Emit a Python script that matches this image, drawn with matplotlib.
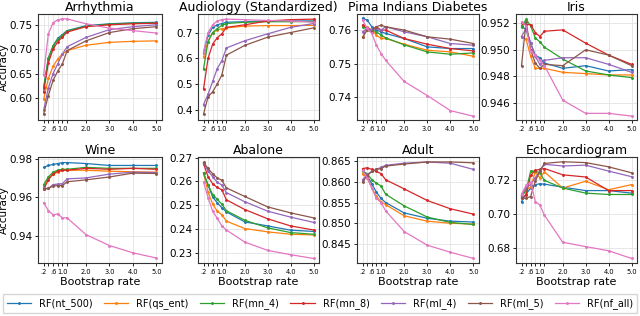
import matplotlib
matplotlib.use("Agg")
import matplotlib.pyplot as plt
import numpy as np

rates = [0.2, 0.4, 0.6, 0.8, 1.0, 1.2, 2.0, 3.0, 4.0, 5.0]
tick_labels = ['.2', '', '.6', '', '1.0', '', '2.0', '3.0', '4.0', '5.0']
models = ['RF(nt_500)', 'RF(qs_ent)', 'RF(mn_4)', 'RF(mn_8)', 'RF(ml_4)', 'RF(ml_5)', 'RF(nf_all)']
colors = ['#1f77b4', '#ff7f0e', '#2ca02c', '#d62728', '#9467bd', '#8c564b', '#e377c2']

arrhythmia = [
    [0.620, 0.680, 0.707, 0.722, 0.730, 0.738, 0.748, 0.752, 0.754, 0.755],
    [0.597, 0.640, 0.665, 0.680, 0.690, 0.697, 0.708, 0.714, 0.716, 0.717],
    [0.622, 0.682, 0.706, 0.720, 0.728, 0.737, 0.747, 0.751, 0.753, 0.754],
    [0.612, 0.672, 0.700, 0.715, 0.725, 0.735, 0.746, 0.750, 0.752, 0.753],
    [0.575, 0.620, 0.650, 0.670, 0.690, 0.705, 0.724, 0.740, 0.746, 0.750],
    [0.567, 0.605, 0.636, 0.655, 0.670, 0.697, 0.717, 0.734, 0.742, 0.746],
    [0.648, 0.731, 0.754, 0.760, 0.762, 0.762, 0.752, 0.743, 0.738, 0.733],
]
audiology = [
    [0.620, 0.690, 0.720, 0.730, 0.735, 0.740, 0.742, 0.745, 0.745, 0.745],
    [0.605, 0.665, 0.700, 0.710, 0.715, 0.718, 0.725, 0.727, 0.727, 0.728],
    [0.558, 0.665, 0.700, 0.715, 0.728, 0.735, 0.740, 0.742, 0.742, 0.743],
    [0.480, 0.600, 0.655, 0.680, 0.695, 0.720, 0.730, 0.745, 0.750, 0.752],
    [0.420, 0.460, 0.510, 0.560, 0.590, 0.640, 0.668, 0.695, 0.720, 0.735],
    [0.383, 0.450, 0.470, 0.500, 0.535, 0.612, 0.650, 0.682, 0.700, 0.718],
    [0.625, 0.700, 0.730, 0.745, 0.750, 0.752, 0.750, 0.747, 0.745, 0.740],
]
pima = [
    [0.7635, 0.7630, 0.7610, 0.7600, 0.7595, 0.7590, 0.7575, 0.7550, 0.7545, 0.7545],
    [0.7578, 0.7610, 0.7600, 0.7585, 0.7575, 0.7575, 0.7558, 0.7540, 0.7535, 0.7522],
    [0.7610, 0.7605, 0.7600, 0.7595, 0.7585, 0.7577, 0.7556, 0.7535, 0.7528, 0.7532],
    [0.7615, 0.7605, 0.7600, 0.7610, 0.7600, 0.7600, 0.7575, 0.7558, 0.7545, 0.7538],
    [0.7595, 0.7605, 0.7600, 0.7605, 0.7600, 0.7610, 0.7595, 0.7580, 0.7560, 0.7555],
    [0.7578, 0.7600, 0.7595, 0.7610, 0.7615, 0.7610, 0.7600, 0.7580, 0.7573, 0.7560],
    [0.7630, 0.7605, 0.7590, 0.7555, 0.7530, 0.7510, 0.7447, 0.7405, 0.7360, 0.7343],
]
iris = [
    [0.9518, 0.9515, 0.9505, 0.9496, 0.9494, 0.9490, 0.9486, 0.9488, 0.9484, 0.9485],
    [0.9510, 0.9508, 0.9495, 0.9486, 0.9486, 0.9486, 0.9483, 0.9482, 0.9481, 0.9481],
    [0.9517, 0.9523, 0.9518, 0.9509, 0.9506, 0.9502, 0.9493, 0.9484, 0.9481, 0.9479],
    [0.9520, 0.9519, 0.9519, 0.9513, 0.9510, 0.9514, 0.9515, 0.9505, 0.9496, 0.9489],
    [0.9510, 0.9516, 0.9505, 0.9495, 0.9489, 0.9492, 0.9494, 0.9494, 0.9489, 0.9483],
    [0.9488, 0.9521, 0.9500, 0.9490, 0.9486, 0.9489, 0.9488, 0.9500, 0.9496, 0.9488],
    [0.9521, 0.9518, 0.9499, 0.9496, 0.9492, 0.9488, 0.9462, 0.9452, 0.9452, 0.9450],
]
wine = [
    [0.9755, 0.9765, 0.9770, 0.9775, 0.9780, 0.9780, 0.9775, 0.9765, 0.9765, 0.9765],
    [0.9650, 0.9700, 0.9720, 0.9730, 0.9740, 0.9740, 0.9740, 0.9735, 0.9732, 0.9730],
    [0.9665, 0.9705, 0.9730, 0.9740, 0.9745, 0.9745, 0.9755, 0.9750, 0.9750, 0.9750],
    [0.9640, 0.9690, 0.9720, 0.9735, 0.9740, 0.9740, 0.9750, 0.9745, 0.9750, 0.9745],
    [0.9645, 0.9645, 0.9665, 0.9668, 0.9670, 0.9695, 0.9700, 0.9720, 0.9730, 0.9728],
    [0.9643, 0.9645, 0.9658, 0.9660, 0.9660, 0.9680, 0.9690, 0.9705, 0.9725, 0.9723],
    [0.9572, 0.9530, 0.9508, 0.9512, 0.9492, 0.9492, 0.9405, 0.9348, 0.9310, 0.9283],
]
abalone = [
    [0.2635, 0.2585, 0.2535, 0.2510, 0.2490, 0.2472, 0.2430, 0.2413, 0.2395, 0.2390],
    [0.2635, 0.2555, 0.2505, 0.2475, 0.2460, 0.2433, 0.2402, 0.2388, 0.2378, 0.2375],
    [0.2635, 0.2585, 0.2545, 0.2525, 0.2505, 0.2477, 0.2437, 0.2405, 0.2385, 0.2378],
    [0.2675, 0.2620, 0.2590, 0.2575, 0.2565, 0.2523, 0.2482, 0.2443, 0.2413, 0.2396],
    [0.2678, 0.2645, 0.2620, 0.2597, 0.2585, 0.2553, 0.2515, 0.2475, 0.2450, 0.2428],
    [0.2680, 0.2655, 0.2632, 0.2615, 0.2605, 0.2573, 0.2537, 0.2493, 0.2468, 0.2447],
    [0.2598, 0.2532, 0.2475, 0.2445, 0.2413, 0.2396, 0.2345, 0.2310, 0.2292, 0.2276],
]
adult = [
    [0.8630, 0.8615, 0.8595, 0.8575, 0.8560, 0.8550, 0.8525, 0.8512, 0.8505, 0.8503],
    [0.8620, 0.8610, 0.8585, 0.8565, 0.8552, 0.8545, 0.8518, 0.8505, 0.8500, 0.8498],
    [0.8625, 0.8620, 0.8605, 0.8597, 0.8590, 0.8570, 0.8542, 0.8515, 0.8502, 0.8497],
    [0.8632, 0.8634, 0.8630, 0.8625, 0.8620, 0.8605, 0.8583, 0.8555, 0.8535, 0.8522],
    [0.8605, 0.8618, 0.8625, 0.8630, 0.8635, 0.8640, 0.8645, 0.8648, 0.8645, 0.8630],
    [0.8600, 0.8615, 0.8625, 0.8630, 0.8632, 0.8638, 0.8643, 0.8648, 0.8648, 0.8646],
    [0.8628, 0.8610, 0.8585, 0.8560, 0.8550, 0.8530, 0.8480, 0.8447, 0.8430, 0.8415],
]
echo = [
    [0.7075, 0.7120, 0.7155, 0.7175, 0.7180, 0.7178, 0.7160, 0.7140, 0.7140, 0.7125],
    [0.7105, 0.7145, 0.7160, 0.7250, 0.7215, 0.7250, 0.7155, 0.7195, 0.7145, 0.7175],
    [0.7105, 0.7140, 0.7255, 0.7255, 0.7245, 0.7200, 0.7155, 0.7125, 0.7117, 0.7117],
    [0.7095, 0.7115, 0.7230, 0.7260, 0.7265, 0.7270, 0.7233, 0.7220, 0.7140, 0.7140],
    [0.7110, 0.7160, 0.7175, 0.7215, 0.7255, 0.7295, 0.7285, 0.7290, 0.7255, 0.7222],
    [0.7095, 0.7095, 0.7105, 0.7195, 0.7255, 0.7300, 0.7310, 0.7305, 0.7280, 0.7245],
    [0.7120, 0.7170, 0.7190, 0.7075, 0.7055, 0.6995, 0.6835, 0.6810, 0.6785, 0.6740],
]

datasets = [
    ('Arrhythmia', arrhythmia, [0.60, 0.65, 0.70, 0.75], '{:.2f}', (0.555, 0.772)),
    ('Audiology (Standardized)', audiology, [0.4, 0.5, 0.6, 0.7], '{:.1f}', (0.36, 0.772)),
    ('Pima Indians Diabetes', pima, [0.74, 0.75, 0.76], '{:.2f}', (0.7332, 0.7648)),
    ('Iris', iris, [0.946, 0.948, 0.950, 0.952], '{:.3f}', (0.9447, 0.9527)),
    ('Wine', wine, [0.94, 0.96, 0.98], '{:.2f}', (0.9257, 0.9809)),
    ('Abalone', abalone, [0.23, 0.24, 0.25, 0.26, 0.27], '{:.2f}', (0.2257, 0.2703)),
    ('Adult', adult, [0.845, 0.850, 0.855, 0.860, 0.865], '{:.3f}', (0.8404, 0.866)),
    ('Echocardiogram', echo, [0.68, 0.70, 0.72], '{:.2f}', (0.6713, 0.7338)),
]

fig = plt.figure(figsize=(6.4, 3.16), dpi=100)
W, H = 640, 316
lefts = [38, 198, 357, 516]
widths = [124, 121, 122, 121]
tops = [14, 157]
height = 106

axes = []
for i, (title, data, yt, fmt, ylim) in enumerate(datasets):
    r, c = divmod(i, 4)
    ax = fig.add_axes([lefts[c] / W, 1 - (tops[r] + height) / H, widths[c] / W, height / H])
    axes.append(ax)
    for k, series in enumerate(data):
        ax.plot(rates, series, color=colors[k], lw=0.9, marker='.', ms=2.2, label=models[k])
    ax.set_title(title, fontsize=9, pad=2.5)
    ax.set_xticks(rates)
    ax.set_xticklabels(tick_labels, fontsize=4.8)
    ax.set_ylim(*ylim)
    ax.set_yticks(yt)
    ax.set_yticklabels([fmt.format(v) for v in yt], fontsize=7.5)
    ax.tick_params(axis='both', length=2.5, width=0.6, pad=1.5)
    ax.grid(True, color='#e3e3e3', lw=0.6)
    ax.set_axisbelow(True)
    for s in ax.spines.values():
        s.set_linewidth(0.8)
        s.set_color('#333333')
    if c == 0:
        ax.set_ylabel('Accuracy', fontsize=7.5)
        ax.yaxis.set_label_coords(-29 / widths[c], 0.5)
    if r == 1:
        ax.set_xlabel('Bootstrap rate', fontsize=8, labelpad=2)

handles, labels = axes[0].get_legend_handles_labels()
fig.legend(handles, labels, loc='lower left', bbox_to_anchor=(3 / W, 3 / H, 634 / W, 24 / H),
           ncol=7, mode='expand', fontsize=7, frameon=True, handlelength=2.5,
           borderaxespad=0, handletextpad=0.8, fancybox=False, edgecolor='#cccccc')

fig.savefig('out.png', dpi=100)
